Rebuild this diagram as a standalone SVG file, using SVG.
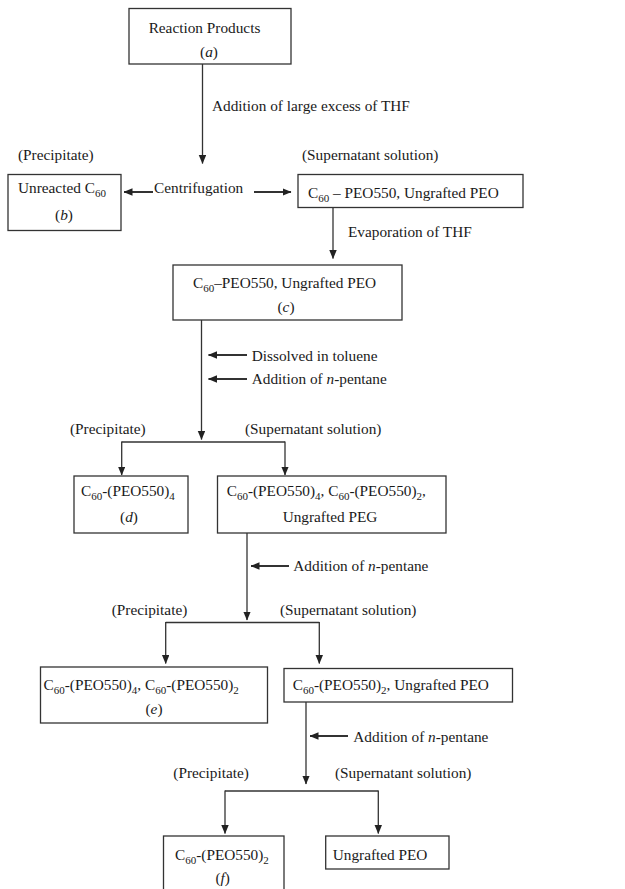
<svg xmlns="http://www.w3.org/2000/svg" width="625" height="889" viewBox="0 0 625 889">
<style>
text{font-family:"Liberation Serif","Times New Roman",serif;font-size:15.3px;fill:#1a1a1a}
.m{text-anchor:middle}
.s{font-size:11px}
rect{fill:#fff;stroke:#333;stroke-width:1.3}
.c line{stroke:#333;stroke-width:1.3;fill:none}
.c line.h{stroke-width:2}
</style>
<defs>
<marker id="ah" markerUnits="userSpaceOnUse" markerWidth="9" markerHeight="8" refX="8.5" refY="3.75" orient="auto">
<path d="M0,0 L9,3.75 L0,7.5 z" fill="#222"/>
</marker>
</defs>
<rect width="625" height="889" fill="#fff" style="stroke:none"/>

<g class="c" id="connectors">
<line x1="202.5" y1="64" x2="202.5" y2="163.5" marker-end="url(#ah)"/>
<line class="h" x1="153" y1="192" x2="124" y2="192" marker-end="url(#ah)"/>
<line class="h" x1="254" y1="192" x2="291" y2="192" marker-end="url(#ah)"/>
<line x1="333" y1="207.5" x2="333" y2="258.5" marker-end="url(#ah)"/>
<line x1="201.5" y1="320" x2="201.5" y2="439.5" marker-end="url(#ah)"/>
<line class="h" x1="247" y1="355" x2="208.5" y2="355" marker-end="url(#ah)"/>
<line class="h" x1="247" y1="379" x2="208.5" y2="379" marker-end="url(#ah)"/>
<line x1="121.7" y1="442" x2="285" y2="442"/>
<line x1="121.7" y1="441.4" x2="121.7" y2="475" marker-end="url(#ah)"/>
<line x1="285" y1="441.4" x2="285" y2="475" marker-end="url(#ah)"/>
<line x1="247" y1="533" x2="247" y2="620" marker-end="url(#ah)"/>
<line class="h" x1="289" y1="566" x2="251" y2="566" marker-end="url(#ah)"/>
<line x1="165.7" y1="622.5" x2="319.3" y2="622.5"/>
<line x1="165.7" y1="621.9" x2="165.7" y2="663.5" marker-end="url(#ah)"/>
<line x1="319.3" y1="621.9" x2="319.3" y2="663.5" marker-end="url(#ah)"/>
<line x1="306" y1="702" x2="306" y2="784" marker-end="url(#ah)"/>
<line class="h" x1="348" y1="736" x2="310" y2="736" marker-end="url(#ah)"/>
<line x1="225" y1="791" x2="378.3" y2="791"/>
<line x1="225" y1="790.4" x2="225" y2="833.5" marker-end="url(#ah)"/>
<line x1="378.3" y1="790.4" x2="378.3" y2="833.5" marker-end="url(#ah)"/>
</g>

<g id="labels">
<text x="212" y="111">Addition of large excess of THF</text>
<text x="18" y="160">(Precipitate)</text>
<text x="302" y="160">(Supernatant solution)</text>
<text x="154" y="193">Centrifugation</text>
<text x="348" y="237">Evaporation of THF</text>
<text x="251.7" y="360.5">Dissolved in toluene</text>
<text x="251.7" y="383.5">Addition of <tspan font-style="italic">n</tspan>-pentane</text>
<text x="70" y="434">(Precipitate)</text>
<text x="245" y="434">(Supernatant solution)</text>
<text x="293.3" y="571">Addition of <tspan font-style="italic">n</tspan>-pentane</text>
<text x="111.7" y="615">(Precipitate)</text>
<text x="280" y="615">(Supernatant solution)</text>
<text x="353.3" y="741.5">Addition of <tspan font-style="italic">n</tspan>-pentane</text>
<text x="173.3" y="778.3">(Precipitate)</text>
<text x="335" y="778.3">(Supernatant solution)</text>
</g>

<g id="node-a">
<rect x="129" y="8.5" width="162" height="55.5"/>
<text class="m" x="204.5" y="33">Reaction Products</text>
<text class="m" x="209" y="57">(<tspan font-style="italic">a</tspan>)</text>
</g>

<g id="node-b">
<rect x="8" y="174.5" width="113" height="56"/>
<text x="18" y="193">Unreacted C<tspan class="s" dy="4">60</tspan></text>
<text class="m" x="64" y="220">(<tspan font-style="italic">b</tspan>)</text>
</g>

<g id="node-supernatant1">
<rect x="298" y="174.5" width="225" height="33"/>
<text x="308" y="198">C<tspan class="s" dy="4">60</tspan><tspan dy="-4"> – PEO550, Ungrafted PEO</tspan></text>
</g>

<g id="node-c">
<rect x="173" y="265" width="229" height="55"/>
<text x="193" y="287.5">C<tspan class="s" dy="4">60</tspan><tspan dy="-4">–PEO550, Ungrafted PEO</tspan></text>
<text class="m" x="286" y="312">(<tspan font-style="italic">c</tspan>)</text>
</g>

<g id="node-d">
<rect x="74" y="476" width="114" height="57"/>
<text x="81" y="496">C<tspan class="s" dy="4">60</tspan><tspan dy="-4">-(PEO550)</tspan><tspan class="s" dy="4">4</tspan></text>
<text class="m" x="129" y="522">(<tspan font-style="italic">d</tspan>)</text>
</g>

<g id="node-supernatant2">
<rect x="217.5" y="476" width="228.5" height="57"/>
<text x="226.7" y="496">C<tspan class="s" dy="4">60</tspan><tspan dy="-4">-(PEO550)</tspan><tspan class="s" dy="4">4</tspan><tspan dy="-4">, C</tspan><tspan class="s" dy="4">60</tspan><tspan dy="-4">-(PEO550)</tspan><tspan class="s" dy="4">2</tspan><tspan dy="-4">,</tspan></text>
<text class="m" x="330" y="522">Ungrafted PEG</text>
</g>

<g id="node-e">
<rect x="40.5" y="667" width="227" height="56"/>
<text x="43.5" y="689.5">C<tspan class="s" dy="4">60</tspan><tspan dy="-4">-(PEO550)</tspan><tspan class="s" dy="4">4</tspan><tspan dy="-4">, C</tspan><tspan class="s" dy="4">60</tspan><tspan dy="-4">-(PEO550)</tspan><tspan class="s" dy="4">2</tspan></text>
<text class="m" x="154" y="713.5">(<tspan font-style="italic">e</tspan>)</text>
</g>

<g id="node-supernatant3">
<rect x="284" y="668.5" width="228.5" height="33.5"/>
<text x="292.7" y="690">C<tspan class="s" dy="4">60</tspan><tspan dy="-4">-(PEO550)</tspan><tspan class="s" dy="4">2</tspan><tspan dy="-4">, Ungrafted PEO</tspan></text>
</g>

<g id="node-f">
<rect x="163.5" y="836" width="120.5" height="80"/>
<text x="175" y="860">C<tspan class="s" dy="4">60</tspan><tspan dy="-4">-(PEO550)</tspan><tspan class="s" dy="4">2</tspan></text>
<text class="m" x="222.7" y="883">(<tspan font-style="italic">f</tspan>)</text>
</g>

<g id="node-ungrafted">
<rect x="325.7" y="836" width="123.3" height="33"/>
<text x="332.7" y="860">Ungrafted PEO</text>
</g>
</svg>
